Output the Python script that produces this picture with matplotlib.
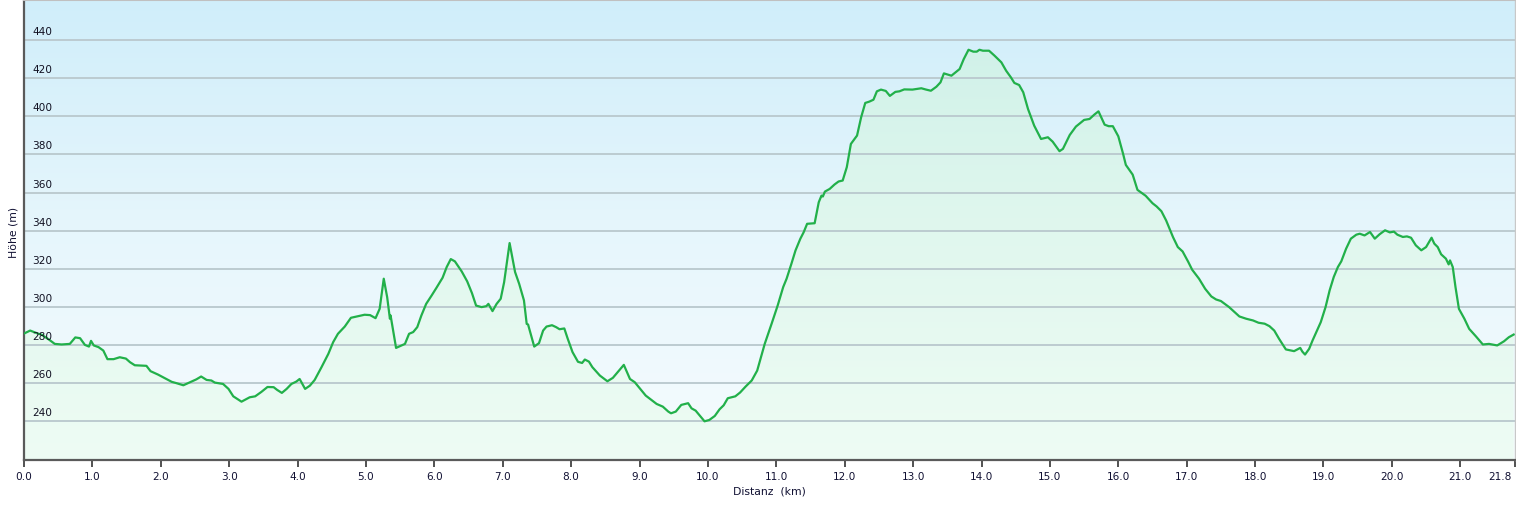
import numpy as np
import matplotlib
matplotlib.use("Agg")
import matplotlib.pyplot as plt
from matplotlib.colors import LinearSegmentedColormap
from matplotlib.transforms import offset_copy, ScaledTranslation

# ---- data (distance in km, elevation in m) ----
dist_km = [
    0.01, 0.09, 0.19, 0.26, 0.36, 0.45, 0.55, 0.67, 0.75, 0.82, 0.89, 0.95, 0.98, 1.02,
    1.09, 1.16, 1.22, 1.31, 1.40, 1.49, 1.55, 1.62, 1.72, 1.79, 1.85, 1.96, 2.06, 2.16,
    2.23, 2.33, 2.43, 2.52, 2.59, 2.67, 2.74, 2.79, 2.91, 2.99, 3.06, 3.18, 3.30, 3.38,
    3.47, 3.56, 3.65, 3.70, 3.77, 3.84, 3.91, 3.98, 4.03, 4.11, 4.18, 4.25, 4.35, 4.45,
    4.52, 4.59, 4.69, 4.78, 4.89, 4.98, 5.06, 5.14, 5.20, 5.26, 5.31, 5.35, 5.36, 5.44,
    5.57, 5.63, 5.69, 5.75, 5.81, 5.88, 5.96, 6.03, 6.12, 6.18, 6.24, 6.30, 6.40, 6.48,
    6.55, 6.61, 6.69, 6.76, 6.79, 6.85, 6.91, 6.97, 7.02, 7.10, 7.18, 7.24, 7.31, 7.35,
    7.37, 7.46, 7.53, 7.59, 7.64, 7.72, 7.78, 7.83, 7.90, 7.95, 8.02, 8.10, 8.16, 8.20,
    8.26, 8.31, 8.42, 8.53, 8.61, 8.70, 8.77, 8.86, 8.93, 9.09, 9.25, 9.34, 9.42, 9.46,
    9.53, 9.61, 9.71, 9.76, 9.82, 9.90, 9.95, 10.02, 10.10, 10.17, 10.23, 10.29, 10.40,
    10.47, 10.55, 10.64, 10.72, 10.83, 10.93, 11.02, 11.10, 11.15, 11.22, 11.28, 11.35,
    11.40, 11.45, 11.56, 11.62, 11.66, 11.68, 11.71, 11.78, 11.85, 11.91, 11.97, 12.03,
    12.09, 12.18, 12.24, 12.30, 12.36, 12.42, 12.47, 12.53, 12.60, 12.66, 12.74, 12.80,
    12.87, 12.99, 13.12, 13.19, 13.26, 13.34, 13.40, 13.45, 13.56, 13.68, 13.74, 13.81,
    13.88, 13.93, 13.97, 14.02, 14.11, 14.19, 14.29, 14.36, 14.43, 14.48, 14.55, 14.61,
    14.68, 14.77, 14.87, 14.97, 15.04, 15.14, 15.19, 15.29, 15.38, 15.50, 15.58, 15.65,
    15.71, 15.80, 15.86, 15.92, 16.00, 16.07, 16.11, 16.21, 16.28, 16.40, 16.50, 16.56,
    16.63, 16.70, 16.80, 16.87, 16.94, 17.02, 17.08, 17.18, 17.27, 17.36, 17.43, 17.50,
    17.62, 17.77, 17.87, 17.97, 18.05, 18.14, 18.21, 18.28, 18.35, 18.45, 18.57, 18.66,
    18.69, 18.73, 18.79, 18.84, 18.96, 19.03, 19.09, 19.15, 19.21, 19.26, 19.33, 19.40,
    19.48, 19.53, 19.60, 19.68, 19.75, 19.82, 19.90, 19.97, 20.03, 20.08, 20.16, 20.22,
    20.28, 20.35, 20.43, 20.50, 20.58, 20.62, 20.67, 20.72, 20.79, 20.83, 20.85, 20.89,
    20.93, 20.98, 21.06, 21.13, 21.23, 21.33, 21.42, 21.54, 21.64, 21.71, 21.78,
]
elev_m = [
    286.2, 287.6, 286.2, 285.4, 283.0, 280.6, 280.3, 280.6, 284.0, 283.6, 280.1, 279.2, 282.2, 279.8,
    278.9, 277.1, 272.6, 272.6, 273.6, 272.9, 271.0, 269.4, 269.2, 269.1, 266.3, 264.5, 262.6, 260.7,
    260.0, 258.9, 260.5, 262.0, 263.5, 261.7, 261.4, 260.3, 259.6, 257.0, 253.1, 250.3, 252.6, 253.1,
    255.4, 258.0, 257.9, 256.5, 254.9, 257.0, 259.6, 260.8, 262.2, 257.0, 258.7, 261.7, 268.4, 275.4,
    281.5, 285.9, 289.7, 294.3, 295.2, 295.9, 295.7, 294.1, 299.0, 314.8, 305.1, 293.8, 295.5, 278.5,
    280.6, 285.9, 286.8, 289.4, 295.5, 301.6, 306.0, 310.0, 315.3, 320.9, 325.1, 323.9, 318.6, 313.4,
    307.2, 300.7, 299.9, 300.4, 301.6, 297.8, 301.6, 304.3, 313.0, 333.5, 318.3, 312.1, 303.4, 291.1,
    290.8, 279.2, 281.0, 287.6, 289.7, 290.4, 289.4, 288.3, 288.7, 283.3, 276.3, 271.2, 270.6, 272.4,
    271.3, 268.4, 264.0, 261.0, 262.8, 266.6, 269.6, 262.2, 260.5, 253.5, 249.1, 247.7, 245.1, 244.2,
    245.1, 248.6, 249.5, 246.8, 245.6, 242.1, 240.0, 240.7, 242.8, 246.3, 248.4, 252.1, 253.1,
    255.1, 258.2, 261.4, 266.6, 280.6, 291.1, 300.8, 310.4, 314.8, 322.6, 329.6, 335.7,
    339.2, 343.6, 343.9, 354.9, 358.4, 357.9, 360.5, 361.9, 364.2, 365.8, 366.3, 373.3,
    385.5, 389.9, 399.5, 407.0, 407.7, 408.7, 413.1, 414.0, 413.3, 410.7, 412.8, 413.1,
    414.1, 414.0, 414.7, 414.0, 413.4, 415.5, 417.8, 422.5, 421.3, 424.8, 430.0, 434.9,
    433.9, 433.9, 434.9, 434.4, 434.4, 431.8, 428.3, 423.9, 420.4, 417.5, 416.4, 412.6,
    403.8, 395.1, 388.1, 389.0, 386.7, 381.7, 382.9, 390.2, 394.6, 398.1, 398.6, 400.9,
    402.6, 395.6, 394.8, 394.8, 389.5, 380.3, 374.5, 369.4, 361.4, 358.3, 354.4, 352.7,
    350.2, 345.3, 336.6, 331.4, 329.1, 323.8, 319.5, 314.8, 309.5, 305.5, 303.9, 303.1,
    299.9, 295.0, 293.8, 292.9, 291.7, 291.2, 289.9, 287.6, 283.3, 277.7, 276.8, 278.5,
    276.6, 275.0, 278.0, 282.4, 292.0, 299.9, 308.7, 315.7, 320.9, 323.9, 330.5, 335.8,
    337.9, 338.4, 337.5, 339.3, 335.8, 338.1, 340.2, 339.1, 339.5, 337.9, 336.7, 337.0,
    336.3, 332.3, 329.7, 331.4, 336.3, 333.2, 331.4, 327.6, 325.3, 322.3, 324.4, 320.9,
    310.4, 299.0, 293.8, 288.5, 284.5, 280.3, 280.6, 279.8, 282.0, 284.1, 285.5,
]

x_ticks = [float(i) for i in range(22)] + [21.8]
x_tick_labels = [f"{v:.1f}" for v in x_ticks]
y_ticks = [240, 260, 280, 300, 320, 340, 360, 380, 400, 420, 440]
y_tick_labels = [str(v) for v in y_ticks]

x_min, x_max = 0.0, 21.8
y_min, y_max = 219.7, 461.0

# ---- figure ----
W, H = 1516, 505
fig = plt.figure(figsize=(W / 100, H / 100), dpi=100)
ax = fig.add_axes([24 / W, 45 / H, 1491 / W, 460 / H])
ax.set_xlim(x_min, x_max)
ax.set_ylim(y_min, y_max)

# background gradient (light blue at top to near-white at bottom)
bg_cmap = LinearSegmentedColormap.from_list("bg", ["#f6fcfe", "#e6f6fc", "#d0eefa"])
grad = np.linspace(0, 1, 256).reshape(-1, 1)
ax.imshow(grad, extent=[x_min, x_max, y_min, y_max], origin="lower",
          aspect="auto", cmap=bg_cmap, zorder=0, interpolation="bicubic")

# filled area under the profile, with its own gradient
fill_cmap = LinearSegmentedColormap.from_list("fill", ["#eefcf4", "#e0f7ee", "#cdf0e8"])
poly = ax.fill_between(dist_km, elev_m, y_min, color="none", lw=0, zorder=1)
img = ax.imshow(grad, extent=[x_min, x_max, y_min, y_max], origin="lower",
                aspect="auto", cmap=fill_cmap, zorder=1, interpolation="bicubic")
path = poly.get_paths()[0]
img.set_clip_path(path, transform=ax.transData)

# grid lines
for yv in y_ticks:
    ax.axhline(yv, color="#bccbd0", lw=1.4, zorder=2)

# profile line
ax.plot(dist_km, elev_m, color="#22b04a", lw=1.6, zorder=3, solid_joinstyle="round")

# y tick labels inside the plot, above their grid lines
label_tr = offset_copy(ax.get_yaxis_transform(), fig=fig, x=8, y=3, units="dots")
for yv, lab in zip(y_ticks, y_tick_labels):
    ax.text(0, yv, lab, transform=label_tr, ha="left", va="bottom",
            fontsize=7.6, color="#111122", zorder=4)
ax.set_yticks([])

# x ticks
ax.set_xticks(x_ticks)
ax.set_xticklabels(x_tick_labels, fontsize=7.6, color="#111133")
ax.tick_params(axis="x", direction="out", length=5, width=1.2, color="#333333", pad=4)
last = ax.get_xticklabels()[-1]
last.set_ha("right")
last.set_transform(last.get_transform() + ScaledTranslation(-3 / 100, 0, fig.dpi_scale_trans))

# spines
ax.spines["left"].set_color("#5a5a5a")
ax.spines["left"].set_linewidth(1.6)
ax.spines["bottom"].set_color("#5a5a5a")
ax.spines["bottom"].set_linewidth(1.6)
ax.spines["top"].set_color("#c0c0c0")
ax.spines["top"].set_linewidth(1.5)
ax.spines["right"].set_color("#c8c8c8")
ax.spines["right"].set_linewidth(1.0)

ax.set_xlabel("Distanz  (km)", fontsize=7.8, color="#111133", labelpad=3)
fig.text(14 / W, 1 - 232 / H, "Höhe (m)", rotation=90, ha="center", va="center",
         fontsize=7.8, color="#111133")

fig.savefig("out.png", dpi=100)
